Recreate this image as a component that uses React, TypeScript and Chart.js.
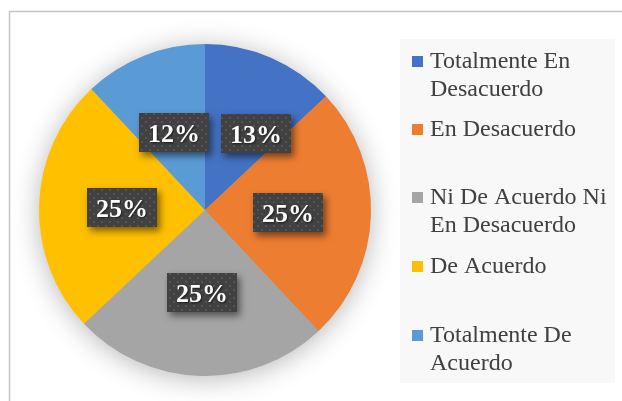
import React, { useEffect, useRef } from "react";
import { Chart, registerables } from "chart.js";
Chart.register(...registerables);

const categories = [
  "Totalmente En Desacuerdo",
  "En Desacuerdo",
  "Ni De Acuerdo Ni En Desacuerdo",
  "De Acuerdo",
  "Totalmente De Acuerdo",
];
const legendLines = [
  ["Totalmente En", "Desacuerdo"],
  ["En Desacuerdo"],
  ["Ni De Acuerdo Ni", "En Desacuerdo"],
  ["De Acuerdo"],
  ["Totalmente De", "Acuerdo"],
];
const values = [13, 25, 25, 25, 12];
const valueLabels = ["13%", "25%", "25%", "25%", "12%"];
const colors = ["#4472C4", "#ED7D31", "#A5A5A5", "#FFC000", "#5B9BD5"];

const SERIF = '"Liberation Serif", "Times New Roman", serif';

function makePattern(ctx: CanvasRenderingContext2D) {
  const c = document.createElement("canvas");
  c.width = 8;
  c.height = 8;
  const p = c.getContext("2d")!;
  p.fillStyle = "#414141";
  p.fillRect(0, 0, 8, 8);
  p.fillStyle = "#545454";
  p.fillRect(1, 1, 2, 2);
  p.fillRect(5, 5, 2, 2);
  return ctx.createPattern(c, "repeat");
}

const framePlugin = {
  id: "frame",
  beforeDraw(chart: any) {
    const ctx = chart.ctx;
    ctx.save();
    ctx.fillStyle = "#ffffff";
    ctx.fillRect(0, 0, chart.width, chart.height);
    ctx.strokeStyle = "#c4c4c4";
    ctx.lineWidth = 1.5;
    ctx.beginPath();
    ctx.moveTo(9.5, chart.height);
    ctx.lineTo(9.5, 11.5);
    ctx.lineTo(chart.width, 11.5);
    ctx.stroke();
    // legend background
    ctx.fillStyle = "#f8f8f8";
    ctx.fillRect(400, 39, 215, 344);
    ctx.restore();
  },
  beforeDatasetsDraw(chart: any) {
    const meta = chart.getDatasetMeta(0);
    const arc = meta.data[0];
    if (!arc) return;
    const { x, y, outerRadius } = arc.getProps(["x", "y", "outerRadius"], true);
    const ctx = chart.ctx;
    ctx.save();
    ctx.shadowColor = "rgba(0,0,0,0.3)";
    ctx.shadowBlur = 28;
    ctx.shadowOffsetY = 3;
    ctx.fillStyle = "#a5a5a5";
    ctx.beginPath();
    ctx.arc(x, y, outerRadius - 1, 0, Math.PI * 2);
    ctx.fill();
    ctx.restore();
  },
  afterDatasetsDraw(chart: any) {
    const ctx = chart.ctx;
    const meta = chart.getDatasetMeta(0);
    const pattern = makePattern(ctx);
    meta.data.forEach((arc: any, i: number) => {
      const { x, y, startAngle, endAngle, outerRadius } = arc.getProps(
        ["x", "y", "startAngle", "endAngle", "outerRadius"],
        true
      );
      const mid = (startAngle + endAngle) / 2;
      const r = outerRadius / 2;
      let cx = x + Math.cos(mid) * r;
      const cy = y + Math.sin(mid) * r;
      if (i === 0) cx += 18;
      const w = 70;
      const h = 39;
      const bx = Math.round(cx - w / 2);
      const by = Math.round(cy - h / 2);
      ctx.save();
      ctx.shadowColor = "rgba(0,0,0,0.5)";
      ctx.shadowBlur = 7;
      ctx.shadowOffsetX = 3;
      ctx.shadowOffsetY = 4;
      ctx.fillStyle = "#414141";
      ctx.fillRect(bx, by, w, h);
      ctx.restore();
      ctx.save();
      ctx.fillStyle = pattern || "#414141";
      ctx.fillRect(bx, by, w, h);
      ctx.font = "bold 26px " + SERIF;
      ctx.textAlign = "center";
      ctx.textBaseline = "alphabetic";
      ctx.shadowColor = "rgba(0,0,0,0.6)";
      ctx.shadowBlur = 2;
      ctx.shadowOffsetX = 1;
      ctx.shadowOffsetY = 1;
      ctx.fillStyle = "#ffffff";
      ctx.fillText(valueLabels[i], bx + w / 2, by + 28.5);
      ctx.restore();
    });
  },
  afterDraw(chart: any) {
    const ctx = chart.ctx;
    const baselines = [68, 136, 204, 273, 342];
    const lineH = 27.5;
    ctx.save();
    ctx.font = "24px " + SERIF;
    ctx.textAlign = "left";
    ctx.textBaseline = "alphabetic";
    legendLines.forEach((lines, i) => {
      const b = baselines[i];
      ctx.fillStyle = colors[i];
      ctx.fillRect(412, b - 12, 11, 11);
      ctx.fillStyle = "#404040";
      lines.forEach((t, j) => {
        ctx.fillText(t, 430, b + j * lineH);
      });
    });
    ctx.restore();
  },
};

export default function App() {
  const ref = useRef<HTMLCanvasElement | null>(null);
  useEffect(() => {
    if (!ref.current) return;
    const chart = new Chart(ref.current, {
      type: "pie",
      data: {
        labels: categories,
        datasets: [
          {
            data: values,
            backgroundColor: colors,
            borderWidth: 0,
            hoverOffset: 0,
          },
        ],
      },
      options: {
        responsive: false,
        animation: false,
        devicePixelRatio: 1,
        layout: { padding: { left: 39, right: 251, top: 44, bottom: 25 } },
        plugins: {
          legend: { display: false },
          tooltip: { enabled: false },
        },
        events: [],
      },
      plugins: [framePlugin],
    });
    return () => chart.destroy();
  }, []);
  return (
    <div style={{ position: "fixed", left: 0, top: 0, width: 622, height: 401, background: "#fff" }}>
      <canvas ref={ref} width={622} height={401} style={{ display: "block" }} />
    </div>
  );
}
